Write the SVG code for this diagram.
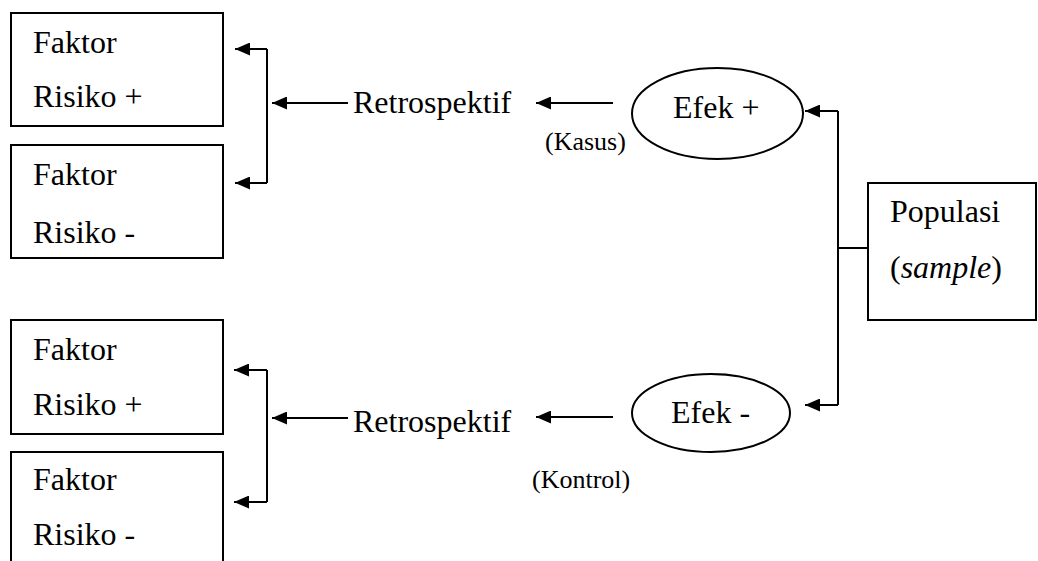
<svg xmlns="http://www.w3.org/2000/svg" width="1038" height="561" viewBox="0 0 1038 561">
<style>
.box{fill:#fff;stroke:#000;stroke-width:2}
.ell{fill:#fff;stroke:#000;stroke-width:2}
.t{font-family:"Liberation Serif","Times New Roman",serif;font-size:32px;fill:#000}
.s{font-family:"Liberation Serif","Times New Roman",serif;font-size:26px;fill:#000}
.c{fill:none;stroke:#000;stroke-width:2}
</style>
<defs>
<marker id="ah" markerUnits="userSpaceOnUse" markerWidth="16" markerHeight="13" refX="15" refY="6.5" orient="auto">
<path d="M0,0 L15,6.5 L0,13 Z" fill="#000"/>
</marker>
</defs>
<rect width="1038" height="561" fill="#fff"/>
<g id="connectors">
<path class="c" d="M267,49 V183"/>
<path class="c" d="M267,49 H235" marker-end="url(#ah)"/>
<path class="c" d="M267,183 H235" marker-end="url(#ah)"/>
<path class="c" d="M348,103 H272" marker-end="url(#ah)"/>
<path class="c" d="M613,103 H536" marker-end="url(#ah)"/>
<path class="c" d="M267,370 V502"/>
<path class="c" d="M267,370 H234" marker-end="url(#ah)"/>
<path class="c" d="M267,502 H234" marker-end="url(#ah)"/>
<path class="c" d="M348,418 H272" marker-end="url(#ah)"/>
<path class="c" d="M613,417 H536" marker-end="url(#ah)"/>
<path class="c" d="M838,111 V405"/>
<path class="c" d="M838,248 H868"/>
<path class="c" d="M838,111 H805" marker-end="url(#ah)"/>
<path class="c" d="M838,405 H805" marker-end="url(#ah)"/>
</g>
<g id="fr-pos-1">
<rect class="box" x="11" y="13" width="212" height="113"/>
<text class="t" x="33" y="53">Faktor</text>
<text class="t" x="33" y="107">Risiko +</text>
</g>
<g id="fr-neg-1">
<rect class="box" x="11" y="145" width="212" height="113"/>
<text class="t" x="33" y="185">Faktor</text>
<text class="t" x="33" y="243">Risiko -</text>
</g>
<g id="fr-pos-2">
<rect class="box" x="11" y="320" width="212" height="114"/>
<text class="t" x="33" y="360">Faktor</text>
<text class="t" x="33" y="415">Risiko +</text>
</g>
<g id="fr-neg-2">
<rect class="box" x="11" y="452" width="212" height="130"/>
<text class="t" x="33" y="490">Faktor</text>
<text class="t" x="33" y="545">Risiko -</text>
</g>
<g id="retro-1">
<text class="t" x="353" y="113">Retrospektif</text>
</g>
<g id="retro-2">
<text class="t" x="353" y="432">Retrospektif</text>
</g>
<g id="efek-pos">
<ellipse class="ell" cx="717.5" cy="113.5" rx="85.5" ry="45.5"/>
<text class="t" x="673" y="118">Efek +</text>
</g>
<text class="s" x="545" y="150">(Kasus)</text>
<g id="efek-neg">
<ellipse class="ell" cx="711" cy="413" rx="79" ry="39"/>
<text class="t" x="671" y="423">Efek -</text>
</g>
<text class="s" x="532" y="488">(Kontrol)</text>
<g id="populasi">
<rect class="box" x="868" y="183" width="168" height="137"/>
<text class="t" x="890" y="222">Populasi</text>
<text class="t" x="890" y="278">(<tspan font-style="italic">sample</tspan>)</text>
</g>
</svg>
